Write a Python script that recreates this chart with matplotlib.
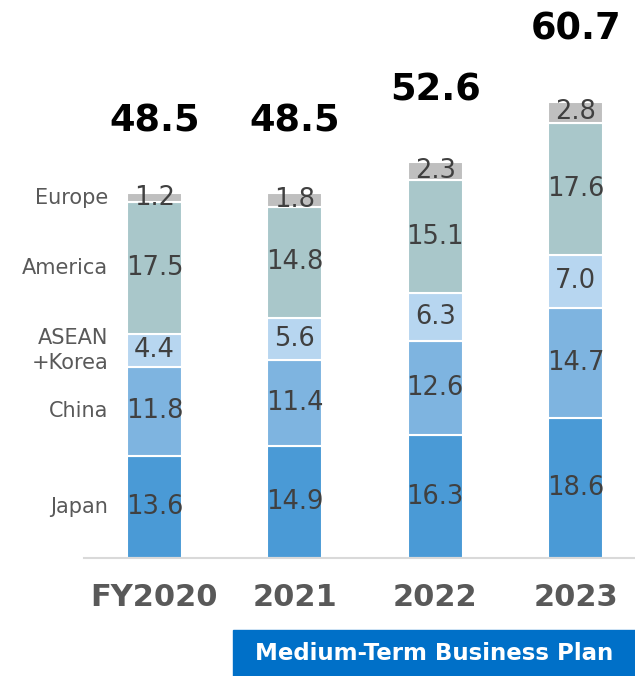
import matplotlib
matplotlib.use("Agg")
import matplotlib.pyplot as plt
from matplotlib.patches import Rectangle

categories = ["FY2020", "2021", "2022", "2023"]
regions = ["Japan", "China", "ASEAN\n+Korea", "America", "Europe"]
japan = [13.6, 14.9, 16.3, 18.6]
china = [11.8, 11.4, 12.6, 14.7]
asean = [4.4, 5.6, 6.3, 7.0]
america = [17.5, 14.8, 15.1, 17.6]
europe = [1.2, 1.8, 2.3, 2.8]
totals = [48.5, 48.5, 52.6, 60.7]
series = [japan, china, asean, america, europe]
colors = ["#4A9AD6", "#7EB4E0", "#B7D6F0", "#A9C7CA", "#BFBFBF"]

W, H = 635, 676
fig = plt.figure(figsize=(W / 100, H / 100), dpi=100)
base_px = 558
ax = fig.add_axes([84 / W, (H - base_px) / H, 1 - 84 / W, base_px / H])

x = list(range(len(categories)))
bottoms = [0.0] * len(categories)
for vals, col in zip(series, colors):
    ax.bar(x, vals, width=0.39, bottom=bottoms, color=col, edgecolor="white",
           linewidth=1.5, zorder=2)
    for i, v in enumerate(vals):
        ax.text(x[i], bottoms[i] + v / 2, f"{v:.1f}", ha="center", va="center",
                fontsize=18.5, color="#404040", zorder=3)
    bottoms = [b + v for b, v in zip(bottoms, vals)]

for i, t in enumerate(totals):
    ax.text(x[i], bottoms[i] + 9.6, f"{t:.1f}", ha="center", va="center",
            fontsize=26.5, fontweight="bold", color="black", clip_on=False)

# region labels next to first bar
b = 0.0
for name, vals in zip(regions, series):
    ax.text(-0.33, b + vals[0] / 2, name, ha="right", va="center",
            fontsize=15, color="#595959", linespacing=1.3)
    b += vals[0]

ax.set_xlim(-0.502, 3.423)
ax.set_ylim(0, base_px / 7.52)
ax.set_yticks([])
ax.set_xticks(x)
ax.set_xticklabels(categories, fontsize=22, fontweight="bold", color="#595959")
ax.tick_params(axis="x", length=0, pad=18)
for s in ["top", "right", "left"]:
    ax.spines[s].set_visible(False)
ax.spines["bottom"].set_color("#D9D9D9")
ax.spines["bottom"].set_linewidth(1.5)
ax.patch.set_alpha(0)

# Medium-Term Business Plan box
fig.patches.append(Rectangle((233 / W, 0), 1 - 233 / W, (H - 630) / H,
                             transform=fig.transFigure, color="#0070C8", zorder=0))
fig.text((233 + 635) / 2 / W, (H - 653) / H, "Medium-Term Business Plan",
         ha="center", va="center", fontsize=16.5, fontweight="bold", color="white")

fig.savefig("out.png", dpi=100)
